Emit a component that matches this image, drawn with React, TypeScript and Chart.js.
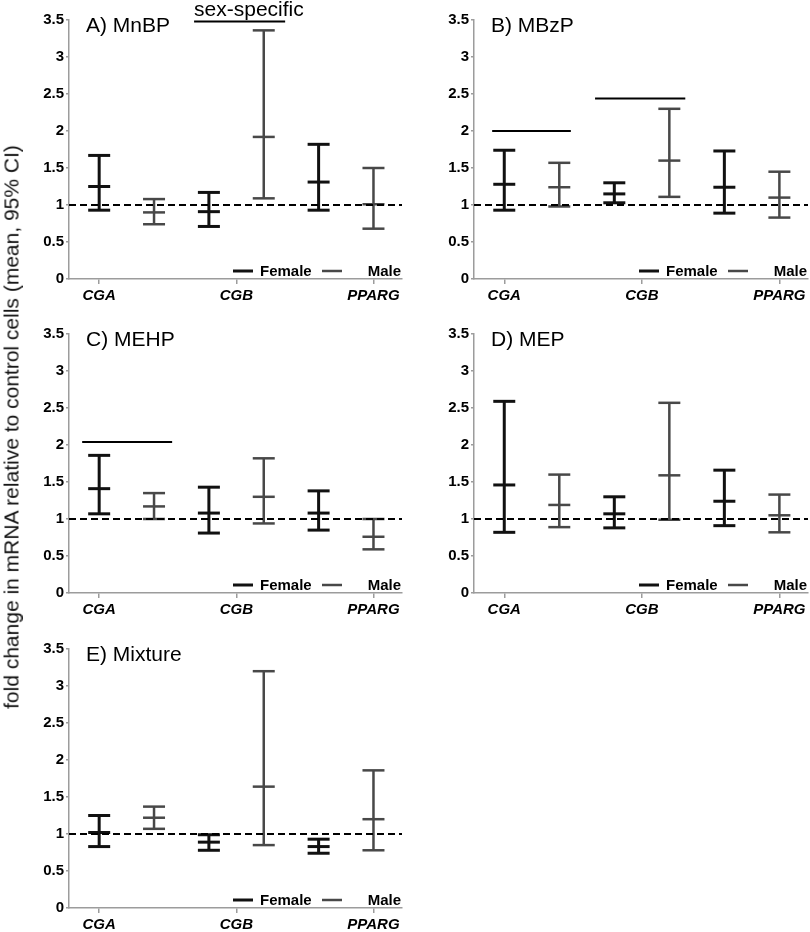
import React, { useEffect, useRef } from 'react';
import { Chart, registerables } from 'chart.js';

Chart.register(...registerables);

// ---- categories / ticks ----
const X_POS = [1, 2, 3, 4, 5, 6]; // CGA F, CGA M, CGB F, CGB M, PPARG F, PPARG M
const FEMALE_IDX = [0, 2, 4];
const MALE_IDX = [1, 3, 5];
const X_TICK_VALUES = [1, 3.5, 6];
const X_TICK_LABELS = ['CGA', 'CGB', 'PPARG'];
const Y_TICK_VALUES = [0, 0.5, 1, 1.5, 2, 2.5, 3, 3.5];
const Y_TICK_LABELS = ['0', '0.5', '1', '1.5', '2', '2.5', '3', '3.5'];
const X_MIN = 0.45;
const X_MAX = 6.52;
const REF_VALUE = 1;
const Y_TITLE = 'fold change in mRNA relative to control cells (mean, 95% CI)';
const LEGEND_LABELS = ['Female', 'Male'];

// ---- A) MnBP ----
const MNBP_MEAN = [1.25, 0.9, 0.91, 1.92, 1.31, 1.01];
const MNBP_LO = [0.93, 0.74, 0.71, 1.09, 0.93, 0.68];
const MNBP_HI = [1.67, 1.08, 1.17, 3.36, 1.82, 1.5];
const MNBP_SIG = [[2.73, 4.39, 3.48]];
const MNBP_SIG_LABEL = 'sex-specific';

// ---- B) MBzP ----
const MBZP_MEAN = [1.28, 1.24, 1.15, 1.6, 1.24, 1.1];
const MBZP_LO = [0.93, 0.98, 1.03, 1.11, 0.89, 0.83];
const MBZP_HI = [1.74, 1.57, 1.3, 2.3, 1.73, 1.45];
const MBZP_SIG = [[0.78, 2.21, 2.0], [2.65, 4.29, 2.44]];

// ---- C) MEHP ----
const MEHP_MEAN = [1.41, 1.17, 1.08, 1.3, 1.08, 0.76];
const MEHP_LO = [1.07, 1.0, 0.81, 0.94, 0.85, 0.59];
const MEHP_HI = [1.86, 1.35, 1.43, 1.82, 1.38, 1.0];
const MEHP_SIG = [[0.69, 2.33, 2.04]];

// ---- D) MEP ----
const MEP_MEAN = [1.46, 1.19, 1.07, 1.59, 1.24, 1.05];
const MEP_LO = [0.82, 0.89, 0.88, 0.99, 0.91, 0.82];
const MEP_HI = [2.59, 1.6, 1.3, 2.57, 1.66, 1.33];
const MEP_SIG: number[][] = [];

// ---- E) Mixture ----
const MIX_MEAN = [1.02, 1.22, 0.89, 1.64, 0.83, 1.2];
const MIX_LO = [0.83, 1.07, 0.78, 0.85, 0.74, 0.78];
const MIX_HI = [1.25, 1.37, 0.99, 3.2, 0.93, 1.86];
const MIX_SIG: number[][] = [];

const FEMALE_COLOR = '#111111';
const MALE_COLOR = '#484848';
const AXIS_COLOR = '#9c9c9c';
const FONT = 'Arial, "Liberation Sans", Helvetica, sans-serif';

type PanelCfg = {
  title: string;
  mean: number[];
  lo: number[];
  hi: number[];
  sig: number[][];
  sigLabel?: string;
  left: number;
  top: number;
  padRight: number;
};

const PANELS: PanelCfg[] = [
  { title: 'A) MnBP', mean: MNBP_MEAN, lo: MNBP_LO, hi: MNBP_HI, sig: MNBP_SIG, sigLabel: MNBP_SIG_LABEL, left: 0, top: 0, padRight: 3 },
  { title: 'B) MBzP', mean: MBZP_MEAN, lo: MBZP_LO, hi: MBZP_HI, sig: MBZP_SIG, left: 405, top: 0, padRight: 2 },
  { title: 'C) MEHP', mean: MEHP_MEAN, lo: MEHP_LO, hi: MEHP_HI, sig: MEHP_SIG, left: 0, top: 314, padRight: 3 },
  { title: 'D) MEP', mean: MEP_MEAN, lo: MEP_LO, hi: MEP_HI, sig: MEP_SIG, left: 405, top: 314, padRight: 2 },
  { title: 'E) Mixture', mean: MIX_MEAN, lo: MIX_LO, hi: MIX_HI, sig: MIX_SIG, left: 0, top: 629, padRight: 3 },
];

const CANVAS_W = 405;
const CANVAS_H = 307;

function errorDatasets(idx: number[], cfg: PanelCfg, color: string, width: number) {
  const stems: any[] = [];
  const marks: any[] = [];
  idx.forEach((i) => {
    const x = X_POS[i];
    stems.push({ x, y: cfg.lo[i] }, { x, y: cfg.hi[i] }, { x, y: null });
    marks.push({ x, y: cfg.lo[i] }, { x, y: cfg.mean[i] }, { x, y: cfg.hi[i] });
  });
  return [
    {
      data: stems,
      borderColor: color,
      borderWidth: width,
      pointRadius: 0,
      showLine: true,
      spanGaps: false,
      fill: false,
      borderCapStyle: 'butt',
    },
    {
      data: marks,
      showLine: false,
      pointStyle: 'line',
      pointRadius: 11,
      pointHoverRadius: 11,
      pointBorderWidth: width,
      pointBorderColor: color,
      borderColor: color,
      borderWidth: width,
    },
  ];
}

const panelDecor = {
  id: 'panelDecor',
  afterDraw(chart: any) {
    const cfg: PanelCfg = chart.options.plugins.panelDecor.cfg;
    const { ctx, chartArea } = chart;
    const xs = chart.scales.x;
    ctx.save();
    // title
    ctx.fillStyle = '#000';
    ctx.font = `21px ${FONT}`;
    ctx.textAlign = 'left';
    ctx.textBaseline = 'alphabetic';
    ctx.fillText(cfg.title, chartArea.left + 17, chartArea.top + 12);
    // significance label
    if (cfg.sigLabel && cfg.sig.length) {
      ctx.fillText(cfg.sigLabel, xs.getPixelForValue(cfg.sig[0][0]), chartArea.top - 4);
    }
    // legend
    const r = chartArea.right;
    const y = chartArea.bottom - 8;
    ctx.lineCap = 'butt';
    ctx.strokeStyle = FEMALE_COLOR;
    ctx.lineWidth = 3;
    ctx.beginPath();
    ctx.moveTo(r - 169, y);
    ctx.lineTo(r - 149, y);
    ctx.stroke();
    ctx.strokeStyle = MALE_COLOR;
    ctx.lineWidth = 2.5;
    ctx.beginPath();
    ctx.moveTo(r - 80, y);
    ctx.lineTo(r - 60, y);
    ctx.stroke();
    ctx.font = `bold 15px ${FONT}`;
    ctx.textBaseline = 'middle';
    ctx.fillStyle = '#000';
    ctx.textAlign = 'left';
    ctx.fillText(LEGEND_LABELS[0], r - 142, y + 1);
    ctx.textAlign = 'right';
    ctx.fillText(LEGEND_LABELS[1], r - 1, y + 1);
    ctx.restore();
  },
};

function Panel({ cfg }: { cfg: PanelCfg }) {
  const ref = useRef<HTMLCanvasElement>(null);
  useEffect(() => {
    if (!ref.current) return;
    const datasets: any[] = [
      {
        data: [
          { x: X_MIN, y: REF_VALUE },
          { x: X_MAX, y: REF_VALUE },
        ],
        borderColor: '#000',
        borderWidth: 1.8,
        borderDash: [7, 4],
        pointRadius: 0,
        fill: false,
      },
      ...errorDatasets(FEMALE_IDX, cfg, FEMALE_COLOR, 3),
      ...errorDatasets(MALE_IDX, cfg, MALE_COLOR, 2.5),
      ...cfg.sig.map((s) => ({
        data: [
          { x: s[0], y: s[2] },
          { x: s[1], y: s[2] },
        ],
        borderColor: '#000',
        borderWidth: 2,
        pointRadius: 0,
        fill: false,
      })),
    ];
    const chart = new Chart(ref.current, {
      type: 'line',
      data: { datasets },
      plugins: [panelDecor],
      options: {
        responsive: false,
        animation: false,
        events: [],
        layout: { autoPadding: false, padding: { top: 20, right: cfg.padRight, bottom: 0, left: 0 } },
        plugins: {
          legend: { display: false },
          tooltip: { enabled: false },
          panelDecor: { cfg },
        } as any,
        scales: {
          x: {
            type: 'linear',
            min: X_MIN,
            max: X_MAX,
            afterBuildTicks: (scale: any) => {
              scale.ticks = X_TICK_VALUES.map((v) => ({ value: v }));
            },
            afterFit: (scale: any) => {
              scale.height = CANVAS_H - 20 - 259;
              scale.paddingLeft = 0;
              scale.paddingRight = 0;
            },
            ticks: {
              autoSkip: false,
              maxRotation: 0,
              padding: 3,
              color: '#000',
              font: { family: FONT, size: 15, weight: 'bold', style: 'italic' },
              callback: (v: any) => {
                const k = X_TICK_VALUES.indexOf(Number(v));
                return k >= 0 ? X_TICK_LABELS[k] : '';
              },
            },
            grid: { display: true, drawOnChartArea: false, drawTicks: true, tickLength: 5, color: AXIS_COLOR, lineWidth: 1.5 },
            border: { display: true, color: AXIS_COLOR, width: 1.5 },
          },
          y: {
            type: 'linear',
            min: 0,
            max: 3.5,
            afterBuildTicks: (scale: any) => {
              scale.ticks = Y_TICK_VALUES.map((v) => ({ value: v }));
            },
            afterFit: (scale: any) => {
              scale.width = 69;
              scale.paddingTop = 0;
              scale.paddingBottom = 0;
            },
            ticks: {
              padding: 2,
              color: '#000',
              font: { family: FONT, size: 15, weight: 'bold' },
              callback: (v: any) => {
                const k = Y_TICK_VALUES.indexOf(Number(v));
                return k >= 0 ? Y_TICK_LABELS[k] : '';
              },
            },
            grid: { display: true, drawOnChartArea: false, drawTicks: true, tickLength: 3, color: AXIS_COLOR, lineWidth: 1.5 },
            border: { display: true, color: AXIS_COLOR, width: 1.5 },
          },
        },
      } as any,
    });
    return () => chart.destroy();
  }, [cfg]);
  return (
    <canvas
      ref={ref}
      width={CANVAS_W}
      height={CANVAS_H}
      style={{ position: 'absolute', left: cfg.left, top: cfg.top, width: CANVAS_W, height: CANVAS_H, display: 'block' }}
    />
  );
}

export default function App() {
  return (
    <div
      style={{
        position: 'absolute',
        left: 0,
        top: 0,
        width: 810,
        height: 932,
        overflow: 'hidden',
        background: '#fff',
        fontFamily: FONT,
      }}
    >
      {PANELS.map((p) => (
        <Panel key={p.title} cfg={p} />
      ))}
      <div
        style={{
          position: 'absolute',
          left: 11,
          top: 427,
          transform: 'translate(-50%, -50%) rotate(-90deg)',
          whiteSpace: 'nowrap',
          fontSize: 21,
          color: '#111',
          lineHeight: 1,
        }}
      >
        {Y_TITLE}
      </div>
    </div>
  );
}
